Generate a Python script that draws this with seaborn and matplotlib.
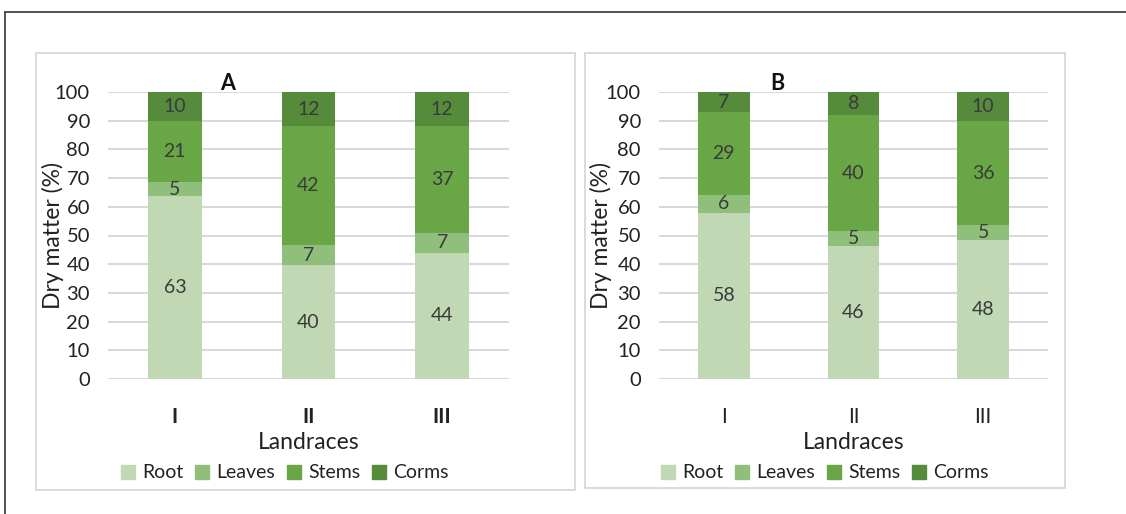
import matplotlib
matplotlib.use("Agg")
import matplotlib.pyplot as plt
import seaborn as sns
import numpy as np
import pandas as pd
from matplotlib.patches import Rectangle
from matplotlib.lines import Line2D

landraces = ["I", "II", "III"]
parts = ["Root", "Leaves", "Stems", "Corms"]

a_root = [63, 40, 44]
a_leaves = [5, 7, 7]
a_stems = [21, 42, 37]
a_corms = [10, 12, 12]

b_root = [58, 46, 48]
b_leaves = [6, 5, 5]
b_stems = [29, 40, 36]
b_corms = [7, 8, 10]

colors = ["#c0d9b4", "#90bf7b", "#68a646", "#558b3a"]

sns.set_theme(style="white")
plt.rcParams["font.family"] = ["Lato", "DejaVu Sans"]

W, H = 1126, 514
fig = plt.figure(figsize=(W / 100, H / 100), dpi=100)


def fx(px):
    return px / W


def fy(py):
    return 1 - py / H


# outer frame lines
fig.add_artist(Line2D([fx(5), fx(1126)], [fy(12), fy(12)], color="#333333", lw=1.2))
fig.add_artist(Line2D([fx(5), fx(5)], [fy(12), fy(514)], color="#333333", lw=1.2))
# panel boxes
fig.add_artist(Rectangle((fx(36), fy(490)), fx(575) - fx(36), fy(53) - fy(490),
                         fill=False, ec="#d4d4d4", lw=1.2))
fig.add_artist(Rectangle((fx(585), fy(488)), fx(1065) - fx(585), fy(53) - fy(488),
                         fill=False, ec="#d4d4d4", lw=1.2))


def panel(rect, series, title, title_x, bold_ticks, legend_x, ylab_x):
    ax = fig.add_axes(rect)
    vals = np.array(series, dtype=float)  # shape (4, 3)
    totals = vals.sum(axis=0)
    pct = vals / totals * 100
    cum = np.cumsum(pct, axis=0)
    # draw from top layer down so lower layers overlay
    for i in range(len(parts) - 1, -1, -1):
        df = pd.DataFrame({"Landrace": landraces, "val": cum[i]})
        sns.barplot(data=df, x="Landrace", y="val", color=colors[i], width=0.4,
                    saturation=1, ax=ax, zorder=2, edgecolor="none")
    # labels
    for i in range(len(parts)):
        lower = cum[i] - pct[i]
        for j in range(len(landraces)):
            ax.text(j, lower[j] + pct[i][j] / 2, f"{int(vals[i][j])}", ha="center",
                    va="center", fontsize=14, color="#3a3a3a", zorder=5)
    ax.set_ylim(0, 100)
    ax.set_xlim(-0.5, 2.5)
    ax.set_yticks(range(0, 101, 10))
    ax.yaxis.grid(True, color="#d9d9d9", lw=1.5, zorder=0)
    ax.set_axisbelow(True)
    for s in ax.spines.values():
        s.set_visible(False)
    ax.tick_params(axis="y", length=0, pad=13, labelsize=14.5, labelcolor="#222222")
    ax.tick_params(axis="x", length=0, pad=20, labelsize=15, labelcolor="#222222")
    if bold_ticks:
        for t in ax.get_xticklabels():
            t.set_fontweight("bold")
    ax.set_xlabel("Landraces", fontsize=16.5, color="#222222", labelpad=4)
    ax.set_ylabel("Dry matter (%)", fontsize=16.5, color="#222222")
    ax.yaxis.set_label_coords(ylab_x, 0.5)
    fig.text(title_x, fy(83), title, fontsize=15.5, fontweight="bold", ha="center",
             va="center", color="#111111")
    handles = [Rectangle((0, 0), 1, 1, color=c) for c in colors]
    fig.legend(handles, parts, loc="center", bbox_to_anchor=(legend_x, fy(473)),
               ncol=4, frameon=False, fontsize=14, handlelength=0.7, handleheight=0.7,
               handletextpad=0.4, columnspacing=0.6, labelcolor="#222222")
    return ax


top, bot = 92, 379
axA = panel([fx(108), fy(bot), fx(509) - fx(108), fy(top) - fy(bot)],
            [a_root, a_leaves, a_stems, a_corms], "A", fx(228), True, fx(285),
            (64 - 108) / 401)
axB = panel([fx(659), fy(bot), fx(1048) - fx(659), fy(top) - fy(bot)],
            [b_root, b_leaves, b_stems, b_corms], "B", fx(777), False, fx(825),
            (612 - 659) / 389)

fig.savefig("out.png", dpi=100)
